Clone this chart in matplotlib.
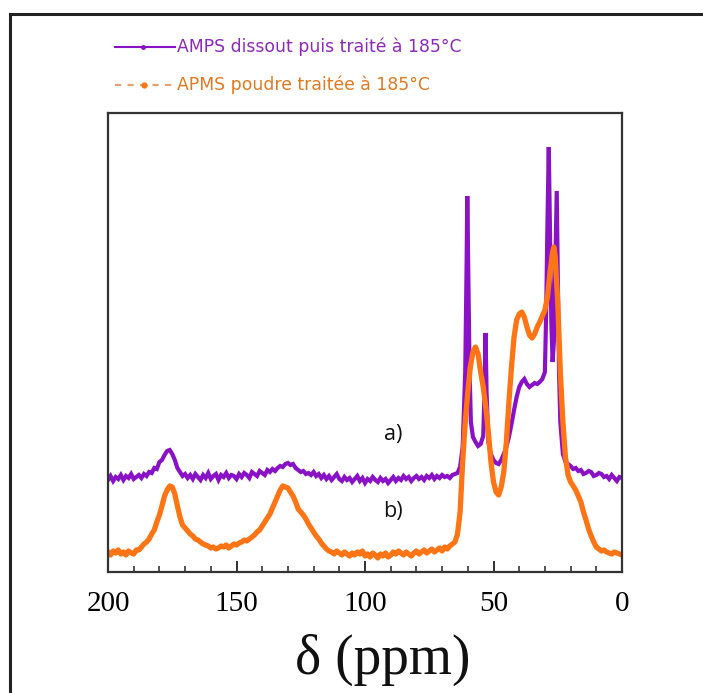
import matplotlib
matplotlib.use("Agg")
import matplotlib.pyplot as plt
from matplotlib.lines import Line2D

# ---- data ----
# series a) purple : 200 -> 64 ppm every 1 ppm, then finer sampling over the aliphatic region
ppm_a = list(range(200, 63, -1)) + [
    63, 62, 61, 60.5, 60.2, 59.8, 59.3, 58.8, 58, 57,
    56, 55, 54, 53.5, 53.1, 52.7, 52, 51, 50, 49, 48, 47, 46, 45, 44, 43, 42, 41, 40, 39,
    38, 37, 36, 35, 34, 33, 32, 31, 30, 29.5, 29, 28.5, 28, 27.5, 27, 26.5, 26, 25.4, 25, 24.5,
    24, 23, 22, 21, 20, 19, 18, 17, 16, 15, 14, 13, 12, 11, 10, 9, 8, 7, 6, 5, 4, 3, 2, 1, 0]
int_a = [92, 96, 91, 95, 93, 97, 92, 96, 94, 98, 93, 95, 97, 94, 98, 96,
         100, 99, 104, 103, 110, 112, 117, 121, 122, 118, 112, 104, 100, 96, 98,
         94, 97, 93, 98, 95, 92, 97, 94, 99, 93, 96, 98, 92, 97, 95, 99, 94, 97, 96, 93,
         98, 95, 99, 97, 94, 100, 98, 96, 101, 99, 97, 102, 100, 103,
         101, 104, 106, 105, 108, 109, 107, 108, 104, 102, 100, 101, 98, 99, 97, 100,
         96, 98, 94, 97, 93, 96, 92, 95, 98, 93, 91, 95, 92, 94, 90, 93, 96, 91, 94, 89,
         93, 91, 95, 92, 90, 94, 91, 93, 89, 92, 95, 91, 94, 92, 96, 93, 95, 91, 94, 96,
         93, 95, 92, 96, 94, 97, 93, 96, 94, 97, 95, 96, 94, 97, 98, 99,
         105, 125, 200, 300, 376, 300, 200, 150, 135, 130,
         126, 128, 136, 180, 239, 180, 130, 118, 112, 109, 108, 112, 118, 125, 135, 148, 162, 175, 185, 190,
         193, 188, 185, 187, 189, 188, 190, 193, 200, 260, 350, 425, 340, 250, 210, 230, 300, 381, 300, 200,
         150, 118, 110, 108, 106, 103, 104, 101, 102, 98, 99, 101, 100, 96, 97, 99, 98, 95, 96, 93,
         97, 94, 91, 95, 94]

# series b) orange : 200 -> 66 ppm every 1 ppm, then the aliphatic region
ppm_b = list(range(200, 65, -1)) + [
    65, 64, 63, 62, 61, 60, 59, 58, 57, 56,
    55, 54, 53, 52, 51, 50, 49, 48, 47, 46, 45, 44, 43, 42, 41, 40, 39, 38, 37, 36,
    35, 34, 33, 32, 31, 30, 29, 28, 27, 26.5, 26, 25, 24, 23, 22, 21, 20, 19, 18, 17, 16, 15, 14,
    13, 12, 11, 10, 9, 8, 7, 6, 5, 4, 3, 2, 1, 0]
int_b = [20, 17, 21, 19, 22, 18, 20, 17, 21, 19, 18, 22,
         22, 25, 28, 30, 33, 38, 42, 50, 57, 66, 76, 82, 86, 85, 78, 66, 55,
         47, 44, 41, 38, 36, 33, 32, 30, 28, 27, 26, 24, 25, 23, 24, 26, 25, 27, 24, 26,
         28, 27, 29, 30, 32, 31,
         33, 35, 37, 40, 42, 46, 50, 54, 58, 64, 70, 76, 82, 86, 85, 84, 80, 76, 70, 63,
         60, 57, 53, 48, 44, 40, 36, 33, 29, 26,
         23, 21, 20, 18, 21, 19, 17, 20, 18, 16, 19, 17, 20, 18, 21, 16, 18, 15, 19, 17,
         14, 18, 16, 19, 15, 17, 20, 18, 21, 19, 17, 20, 18, 16, 19, 21, 18, 20, 22, 19,
         21, 23, 20, 22, 24, 21, 25, 23, 26, 28,
         30, 38, 60, 110, 150, 180, 205, 220, 225, 218,
         200, 185, 165, 140, 110, 90, 80, 77, 85, 100, 130, 170, 205, 235, 252, 258, 260, 255, 245, 237,
         234, 238, 245, 250, 256, 262, 275, 300, 320, 325, 315, 270, 200, 150, 115, 97, 90, 86, 82, 76, 70, 60, 52,
         43, 36, 30, 25, 23, 21, 22, 20, 19, 18, 20, 19, 18, 17]

xticks = [200, 150, 100, 50, 0]
label_a = "AMPS dissout puis traité à 185°C"
label_b = "APMS poudre traitée à 185°C"

purple = "#8A12C6"
orange = "#FF7414"

W, H = 703, 693
fig = plt.figure(figsize=(W / 100, H / 100), dpi=100)
ax = fig.add_axes([108 / W, 1 - 572 / H, (622 - 108) / W, (572 - 113) / H])

ax.plot(ppm_a, int_a, color=purple, lw=3.0, solid_joinstyle="miter")
ax.plot(ppm_b, int_b, color=orange, lw=3.8, solid_joinstyle="round")

ax.set_xlim(200, 0)
ax.set_ylim(0, 459)
ax.set_yticks([])
ax.set_xticks(xticks)
ax.set_xticks(range(0, 201, 10), minor=True)
ax.set_xticklabels([str(t) for t in xticks], family="Liberation Serif", fontsize=21)
ax.tick_params(axis="x", which="major", direction="in", length=8, width=1.3, pad=14, color="#222222")
ax.tick_params(axis="x", which="minor", direction="in", length=4, width=1.1, color="#222222")
for s in ax.spines.values():
    s.set_color("#333333")
    s.set_linewidth(1.6)

fig.text(393 / W, 1 - 435 / H, "a)", ha="center", va="center", fontsize=15.5, family="Open Sans", color="#111111")
fig.text(393 / W, 1 - 512 / H, "b)", ha="center", va="center", fontsize=15.5, family="Open Sans", color="#111111")

fig.text(383 / W, 1 - 660 / H, "δ (ppm)", ha="center", va="center", fontsize=40,
         family="Liberation Serif", color="#111111")

# legend (outside axes, top-left)
fig.add_artist(Line2D([115 / W, 175 / W], [1 - 47 / H, 1 - 47 / H], color=purple, lw=1.5))
fig.add_artist(Line2D([143 / W], [1 - 47 / H], color=purple, marker="o", ms=2.5, lw=0))
fig.text(177 / W, 1 - 47 / H, label_a, ha="left", va="center", fontsize=12.4, color="#8B2BB8",
         family="DejaVu Sans")
fig.add_artist(Line2D([115 / W, 175 / W], [1 - 85 / H, 1 - 85 / H], color="#E8A070", lw=1.5,
                      linestyle=(0, (3, 3))))
fig.add_artist(Line2D([144 / W], [1 - 85 / H], color=orange, marker="o", ms=3.5, lw=0))
fig.text(177 / W, 1 - 85 / H, label_b, ha="left", va="center", fontsize=12.4, color="#E07A22",
         family="DejaVu Sans")

# outer frame (top and left edges visible)
fig.add_artist(Line2D([10 / W, 1.0], [1 - 14 / H, 1 - 14 / H], color="#222222", lw=2.2))
fig.add_artist(Line2D([10 / W, 10 / W], [1 - 14 / H, 0.0], color="#222222", lw=2.2))

fig.savefig("out.png", dpi=100)
